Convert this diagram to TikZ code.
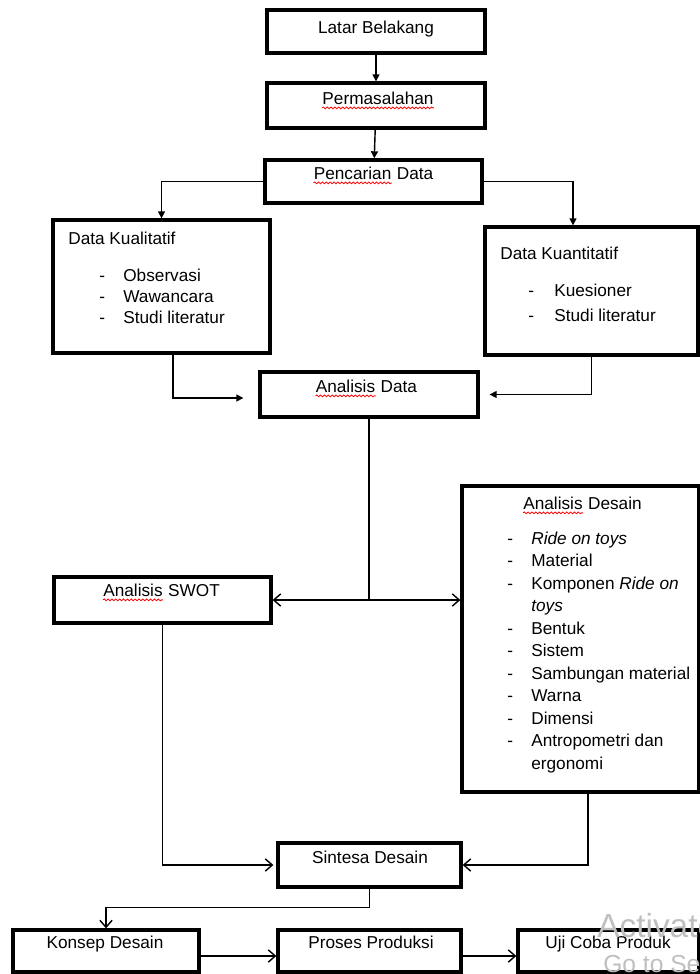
\documentclass[tikz,border=0pt]{standalone}
\usepackage{fontspec}
\setmainfont{Liberation Sans}
\usetikzlibrary{arrows.meta,decorations.pathmorphing}

\tikzset{
    box/.style={draw, line width=1.9pt, inner sep=0pt},
    txt/.style={font=\fontsize{9.8pt}{12pt}\selectfont, inner sep=0pt, anchor=base},
    item/.style={txt, anchor=base west},
    arr/.style={line width=0.8pt, -{Triangle[length=4pt,width=4pt]}},
    oarr/.style={line width=0.8pt, -{Straight Barb[length=4pt,width=7pt]}},
    squig/.style={red, line width=0.45pt, decorate,
        decoration={snake, amplitude=0.5pt, segment length=2.2pt}},
    wmark/.style={inner sep=0pt, anchor=base west, text=gray!50}
}

\begin{document}
\begin{tikzpicture}[x=0.02cm, y=-0.02cm]
        \useasboundingbox (0,0) rectangle (700,974);

        % Boxes:
        \node[box, minimum width=4.36cm, minimum height=0.86cm] (lat) at (376,31.5) {};
        \node[box, minimum width=4.36cm, minimum height=0.90cm] (per) at (376,105.5) {};
        \node[box, minimum width=4.34cm, minimum height=0.86cm] (pen) at (373.5,181.5) {};
        \node[box, minimum width=4.34cm, minimum height=2.66cm] (kual) at (161.5,286.5) {};
        \node[box, minimum width=4.26cm, minimum height=2.56cm] (kuan) at (591.5,291) {};
        \node[box, minimum width=4.36cm, minimum height=0.90cm] (andata) at (369,394.5) {};
        \node[box, minimum width=4.34cm, minimum height=0.92cm] (swot) at (162.5,600) {};
        \node[box, minimum width=4.74cm, minimum height=6.12cm] (desain) at (580.5,639) {};
        \node[box, minimum width=3.66cm, minimum height=0.88cm] (sin) at (369.5,865) {};
        \node[box, minimum width=3.72cm, minimum height=0.84cm] (kon) at (106,951) {};
        \node[box, minimum width=3.66cm, minimum height=0.84cm] (pro) at (369.5,951) {};
        \node[box, minimum width=3.62cm, minimum height=0.84cm] (uji) at (608.5,951) {};

        % Titles, set at the top of each box:
        \node[txt] (latT) at (376,33) {Latar Belakang};
        \node[txt] (perT) at (378,104) {Permasalahan};
        \node[item] (penT) at (313.5,179) {Pencarian};
        \node[item] (penT2) at ([xshift=2.7pt]penT.base east) {Data};
        \node[item] (kualT) at (68,244) {Data Kualitatif};
        \node[item] (kuanT) at (500,259) {Data Kuantitatif};
        \node[item] (andT) at (315.5,392) {Analisis};
        \node[item] (andT2) at ([xshift=2.7pt]andT.base east) {Data};
        \node[item] (swotT) at (103,596) {Analisis};
        \node[item] (swotT2) at ([xshift=2.7pt]swotT.base east) {SWOT};
        \node[item] (desT) at (523,509) {Analisis};
        \node[item] (desT2) at ([xshift=2.7pt]desT.base east) {Desain};
        \node[txt] (sinT) at (370,863) {Sintesa Desain};
        \node[txt] (konT) at (105,948) {Konsep Desain};
        \node[txt] (proT) at (371,948) {Proses Produksi};
        \node[txt] (ujiT) at (608,948) {Uji Coba Produk};

        % spell-check waves
        \foreach \w in {perT, penT, andT, swotT, desT}
                \draw[squig] ([yshift=-2.2pt]\w.base west) -- ([yshift=-2.2pt]\w.base east);

        % Lists:
        \foreach \t [count=\i] in {Observasi, Wawancara, Studi literatur} {
                \node[item] (kualD\i) at (99,260+21*\i) {-};
                \node[item] (kualI\i) at (123,260+21*\i) {\t};
        }
        \foreach \t [count=\i] in {Kuesioner, Studi literatur} {
                \node[item] (kuanD\i) at (528,271+25*\i) {-};
                \node[item] (kuanI\i) at (554,271+25*\i) {\t};
        }
        \foreach \n/\t in {0/\textit{Ride on toys}, 1/Material, 2/Komponen \textit{Ride on},
                4/Bentuk, 5/Sistem, 6/Sambungan material, 7/Warna, 8/Dimensi, 9/Antropometri dan} {
                \node[item] (desD\n) at (507,544+22.5*\n) {-};
                \node[item] (desI\n) at (531,544+22.5*\n) {\t};
        }
        % wrapped lines, no dash
        \foreach \n/\t in {3/\textit{toys}, 10/ergonomi} {
                \node[item] (desI\n) at (531,544+22.5*\n) {\t};
        }

        % Connectors:
        \draw[arr] (lat) -- (per);
        \draw[arr] (per) -- (pen);
        \draw[arr] (pen.west) -| (kual.north);
        \draw[arr] (pen.east) -| ([xshift=-0.37cm]kuan.north);
        \draw[arr, shorten >=0.3cm] ([xshift=0.23cm]kual.south) |- ([yshift=-0.07cm]andata.west);
        \draw[arr, shorten >=0.2cm] (kuan.south) |- (andata.east);

        \draw[line width=0.8pt] (andata.south) -- (andata.south |- swot.east) coordinate (split);
        \draw[oarr] (split) -- (swot.east);
        \draw[oarr] (split) -- (split -| desain.west);

        \draw[oarr, shorten >=0.06cm] (swot.south) |- (sin.west);
        \draw[oarr] ([xshift=0.15cm]desain.south) |- (sin.east);
        \draw[oarr] (sin.south) -- ++(0,19) -| (kon.north);
        \draw[oarr] ([yshift=-0.1cm]kon.east) -- ([yshift=-0.1cm]pro.west);
        \draw[oarr] ([yshift=-0.1cm]pro.east) -- ([yshift=-0.1cm]uji.west);

        % Windows watermark, cut at the edge
        \begin{scope}
                \clip (0,0) rectangle (700,974);
                \node[wmark, font=\fontsize{19pt}{19pt}\selectfont] (wmA) at (597,937) {Activate Windows};
                \node[wmark, font=\fontsize{14pt}{14pt}\selectfont] (wmB) at (603,972) {Go to Settings to activate Windows.};
        \end{scope}
\end{tikzpicture}
\end{document}
